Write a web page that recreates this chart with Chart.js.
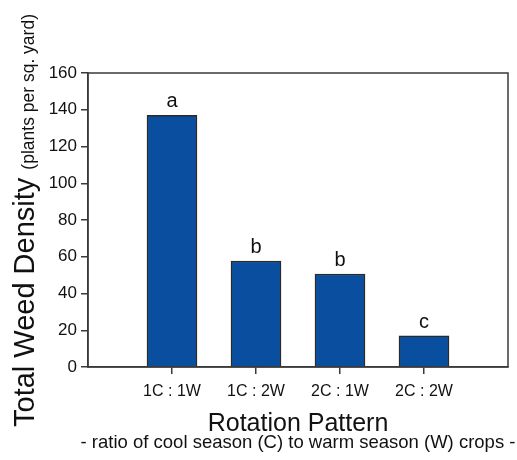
<!DOCTYPE html>
<html>
<head>
<meta charset="utf-8">
<script src="https://cdn.jsdelivr.net/npm/chart.js@4/dist/chart.umd.min.js"></script>
<style>
  body { margin: 0; background: #fff; }
  #wrap { width: 517px; height: 460px; position: relative; }
</style>
</head>
<body>
<div id="wrap"><canvas id="weedChart"></canvas></div>
<script>
// data
const patterns = ['1C : 1W', '1C : 2W', '2C : 1W', '2C : 2W'];
const weedDensity = [137, 57.7, 50.6, 17];
const groupLetters = ['a', 'b', 'b', 'c'];
const yTicks = [0, 20, 40, 60, 80, 100, 120, 140, 160];

const FONT = "'Liberation Sans', Arial, sans-serif";
const BAR_COLOR = '#0a4f9f';
const AXIS_COLOR = '#3a3a3a';

// empty slot on each side so the bars sit like in the original
const labels = [''].concat(patterns, ['']);
const values = [null].concat(weedDensity, [null]);
const letters = [''].concat(groupLetters, ['']);

// frame, letters above bars, y title (two sizes) and subtitle
const decorPlugin = {
    id: 'decor',
    afterDraw(chart) {
        const ctx = chart.ctx;
        const area = chart.chartArea;
        ctx.save();

        // box round the plot
        ctx.strokeStyle = AXIS_COLOR;
        ctx.lineWidth = 1.5;
        ctx.strokeRect(area.left, area.top, area.right - area.left, area.bottom - area.top);

        // significance letters
        const meta = chart.getDatasetMeta(0);
        ctx.fillStyle = '#111';
        ctx.font = '20px ' + FONT;
        ctx.textAlign = 'center';
        ctx.textBaseline = 'alphabetic';
        meta.data.forEach((bar, i) => {
            if (!letters[i]) return;
            ctx.fillText(letters[i], bar.x, bar.y - 8);
        });

        // y axis title
        ctx.save();
        ctx.translate(34, 427);
        ctx.rotate(-Math.PI / 2);
        ctx.textAlign = 'left';
        ctx.font = '29px ' + FONT;
        const big = 'Total Weed Density ';
        ctx.fillText(big, 0, 0);
        const w = ctx.measureText(big).width;
        ctx.font = '17.5px ' + FONT;
        ctx.fillText('(plants per sq. yard)', w, 0);
        ctx.restore();

        // subtitle under the x title
        ctx.font = '18.5px ' + FONT;
        ctx.textAlign = 'center';
        ctx.fillText('- ratio of cool season (C) to warm season (W) crops -', (area.left + area.right) / 2, 448);

        ctx.restore();
    }
};

new Chart(document.getElementById('weedChart'), {
    type: 'bar',
    data: {
        labels: labels,
        datasets: [{
            data: values,
            backgroundColor: BAR_COLOR,
            borderColor: '#2a2a2a',
            borderWidth: 1.5,
            borderSkipped: 'bottom',
            barThickness: 50
        }]
    },
    options: {
        responsive: true,
        maintainAspectRatio: false,
        animation: false,
        layout: { padding: { top: 73, right: 9, left: 0, bottom: 0 } },
        plugins: {
            legend: { display: false },
            tooltip: { enabled: false }
        },
        scales: {
            x: {
                offset: false,
                grid: {
                    offset: false,
                    drawOnChartArea: false,
                    drawTicks: true,
                    tickLength: 7,
                    lineWidth: 1.5,
                    color: (c) => (c.index === 0 || c.index === labels.length - 1) ? 'rgba(0,0,0,0)' : AXIS_COLOR
                },
                border: { display: true, color: AXIS_COLOR, width: 1.5 },
                ticks: {
                    autoSkip: false,
                    maxRotation: 0,
                    padding: 8,
                    color: '#111',
                    font: { family: FONT, size: 16 }
                },
                title: {
                    display: true,
                    text: 'Rotation Pattern',
                    color: '#111',
                    font: { family: FONT, size: 25 },
                    padding: { top: 0, bottom: 21 }
                },
                afterFit(scale) { scale.height = 93; }
            },
            y: {
                min: 0,
                max: 160,
                afterBuildTicks(scale) {
                    scale.ticks = yTicks.map(v => ({ value: v }));
                },
                grid: {
                    drawOnChartArea: false,
                    drawTicks: true,
                    tickLength: 7,
                    lineWidth: 1.5,
                    color: AXIS_COLOR
                },
                border: { display: true, color: AXIS_COLOR, width: 1.5 },
                ticks: {
                    padding: 4,
                    color: '#111',
                    font: { family: FONT, size: 17 }
                },
                afterFit(scale) { scale.width = 88; }
            }
        }
    },
    plugins: [decorPlugin]
});
</script>
</body>
</html>
